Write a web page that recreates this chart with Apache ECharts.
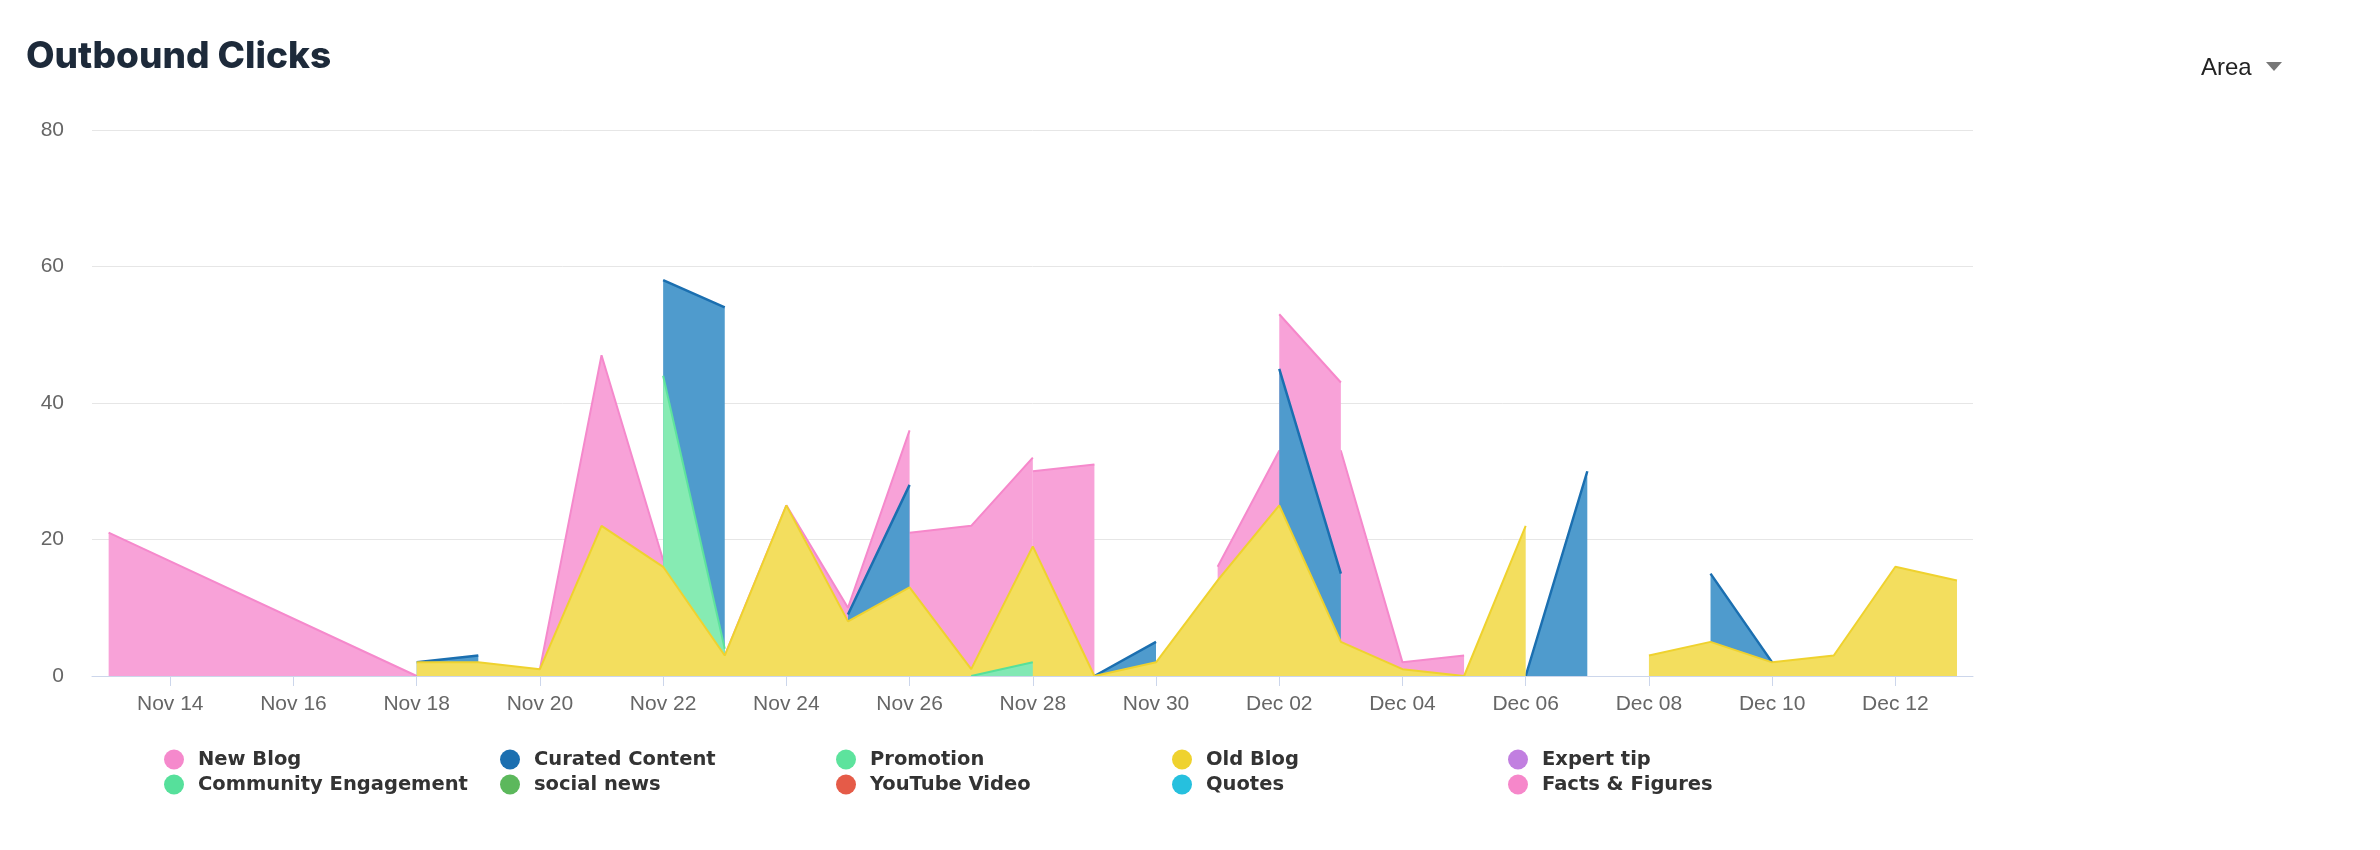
<!DOCTYPE html>
<html>
<head>
<meta charset="utf-8">
<script src="https://cdn.jsdelivr.net/npm/echarts@6/dist/echarts.min.js"></script>
<style>
  html, body { margin: 0; padding: 0; background: #fff; }
  #chart { width: 2380px; height: 850px; }
</style>
</head>
<body>
<div id="chart"></div>
<script>
const X = undefined; // no entry for that day (line connects across)
// null = break in the line

const days = ['Nov 13','Nov 14','Nov 15','Nov 16','Nov 17','Nov 18','Nov 19','Nov 20','Nov 21','Nov 22',
  'Nov 23','Nov 24','Nov 25','Nov 26','Nov 27','Nov 28','Nov 29','Nov 30','Dec 01','Dec 02',
  'Dec 03','Dec 04','Dec 05','Dec 06','Dec 07','Dec 08','Dec 09','Dec 10','Dec 11','Dec 12','Dec 13'];

const tickLabels = ['Nov 14','Nov 16','Nov 18','Nov 20','Nov 22','Nov 24','Nov 26','Nov 28','Nov 30',
  'Dec 02','Dec 04','Dec 06','Dec 08','Dec 10','Dec 12'];

const yTicks = [0, 20, 40, 60, 80];

const seriesNames = ['New Blog','Curated Content','Promotion','Old Blog','Expert tip',
  'Community Engagement','social news','YouTube Video','Quotes','Facts & Figures'];

const newBlog = [21,X,X,X,X,0,1,1,47,17,3,25,10,36,null,30,31,null,16,33,33,2,3,null,X,X,X,X,X,X,X];
const curatedContent = [X,X,X,X,X,2,3,null,X,58,54,null,9,28,null,X,0,5,null,45,15,null,X,0,30,null,15,2,null,X,X];
const promotion = [X,X,X,X,X,X,X,X,X,44,4,null,X,X,X,X,X,X,X,X,X,X,X,X,X,X,X,X,X,X,X];
const oldBlog = [X,X,X,X,X,2,2,1,22,16,3,25,8,13,1,19,0,2,14,25,5,1,0,22,null,3,5,2,3,16,14];
const expertTip = [];
const communityEngagement = [X,X,X,X,X,X,X,X,X,X,X,X,X,X,0,2,null,X,X,X,X,X,X,X,X,X,X,X,X,X,X];
const socialNews = [];
const youtubeVideo = [];
const quotes = [];
const factsFigures = [X,X,X,X,X,X,X,X,X,X,X,X,X,21,22,32,null,X,X,53,43,null,X,X,X,X,X,X,X,X,X];

const colors = {
  'New Blog': '#f589cc',
  'Curated Content': '#1b6fb0',
  'Promotion': '#5de39d',
  'Old Blog': '#efd22e',
  'Expert tip': '#c17fe0',
  'Community Engagement': '#56e09b',
  'social news': '#5cb85c',
  'YouTube Video': '#e55b48',
  'Quotes': '#26c0de',
  'Facts & Figures': '#f687ca'
};
const fills = {
  'New Blog': '#f8a2d8',
  'Curated Content': '#4f9bcd',
  'Promotion': '#86ebb3',
  'Old Blog': '#f3de5e',
  'Expert tip': '#d09fe8',
  'Community Engagement': '#82e8b4',
  'social news': '#85ca85',
  'YouTube Video': '#ec8476',
  'Quotes': '#5cd0e6',
  'Facts & Figures': '#f8a2d8'
};

function pts(arr) {
  const out = [];
  arr.forEach((v, i) => { if (v !== X) out.push([i, v]); });
  return out;
}

// drawing order (back to front)
const drawOrder = [
  ['New Blog', newBlog],
  ['Facts & Figures', factsFigures],
  ['Curated Content', curatedContent],
  ['Promotion', promotion],
  ['Old Blog', oldBlog],
  ['Expert tip', expertTip],
  ['Community Engagement', communityEngagement],
  ['social news', socialNews],
  ['YouTube Video', youtubeVideo],
  ['Quotes', quotes]
];

const tickPos = tickLabels.map(l => days.indexOf(l));

const chart = echarts.init(document.getElementById('chart'), null, { renderer: 'canvas' });

chart.setOption({
  animation: false,
  backgroundColor: '#ffffff',
  title: {
    text: 'Outbound Clicks',
    left: 21,
    top: 33,
    textStyle: { fontFamily: 'Inter', fontWeight: 800, fontSize: 37, color: '#1d2a3a' }
  },
  graphic: [
    { type: 'text', left: 2201, top: 56, style: { text: 'Area', font: '24px "Liberation Sans", Arial, sans-serif', fill: '#222' } },
    { type: 'polygon', shape: { points: [[2266, 62], [2282, 62], [2274, 71]] }, style: { fill: '#777' } }
  ],
  grid: { left: 92, right: 407, top: 130, bottom: 174, containLabel: false },
  xAxis: {
    type: 'value',
    min: -0.27,
    max: 30.26,
    z: 40,
    splitLine: { show: false },
    axisLine: { show: true, onZero: false, lineStyle: { color: '#ccd6eb', width: 1 } },
    axisTick: { show: true, length: 10, customValues: tickPos, lineStyle: { color: '#ccd6eb', width: 1 } },
    axisLabel: {
      customValues: tickPos,
      formatter: v => days[Math.round(v)],
      color: '#666',
      fontFamily: '"Liberation Sans", Arial, sans-serif',
      fontSize: 21,
      margin: 18
    }
  },
  yAxis: {
    type: 'value',
    min: yTicks[0],
    max: yTicks[yTicks.length - 1],
    interval: 20,
    z: 0,
    axisLine: { show: false },
    axisTick: { show: false },
    splitLine: { lineStyle: { color: '#e6e6e6', width: 1 } },
    axisLabel: {
      color: '#666',
      fontFamily: '"Liberation Sans", Arial, sans-serif',
      fontSize: 21,
      margin: 28
    }
  },
  legend: {
    data: seriesNames,
    left: 164,
    top: 747,
    width: 1740,
    orient: 'horizontal',
    icon: 'circle',
    itemWidth: 38,
    itemHeight: 20,
    itemGap: 0,
    padding: 0,
    selectedMode: false,
    textStyle: {
      fontFamily: '"DejaVu Sans", sans-serif',
      fontWeight: 'bold',
      fontSize: 19.5,
      color: '#333',
      width: 302,
      lineHeight: 25,
      overflow: 'none'
    }
  },
  series: drawOrder.map(([name, arr], idx) => ({
    name: name,
    type: 'line',
    z: 3 + idx,
    data: pts(arr),
    showSymbol: false,
    symbol: 'none',
    connectNulls: false,
    color: colors[name],
    lineStyle: { width: name === 'Curated Content' ? 2.5 : 2, color: colors[name] },
    areaStyle: { color: fills[name], opacity: 1 },
    emphasis: { disabled: true }
  }))
});
</script>
</body>
</html>
